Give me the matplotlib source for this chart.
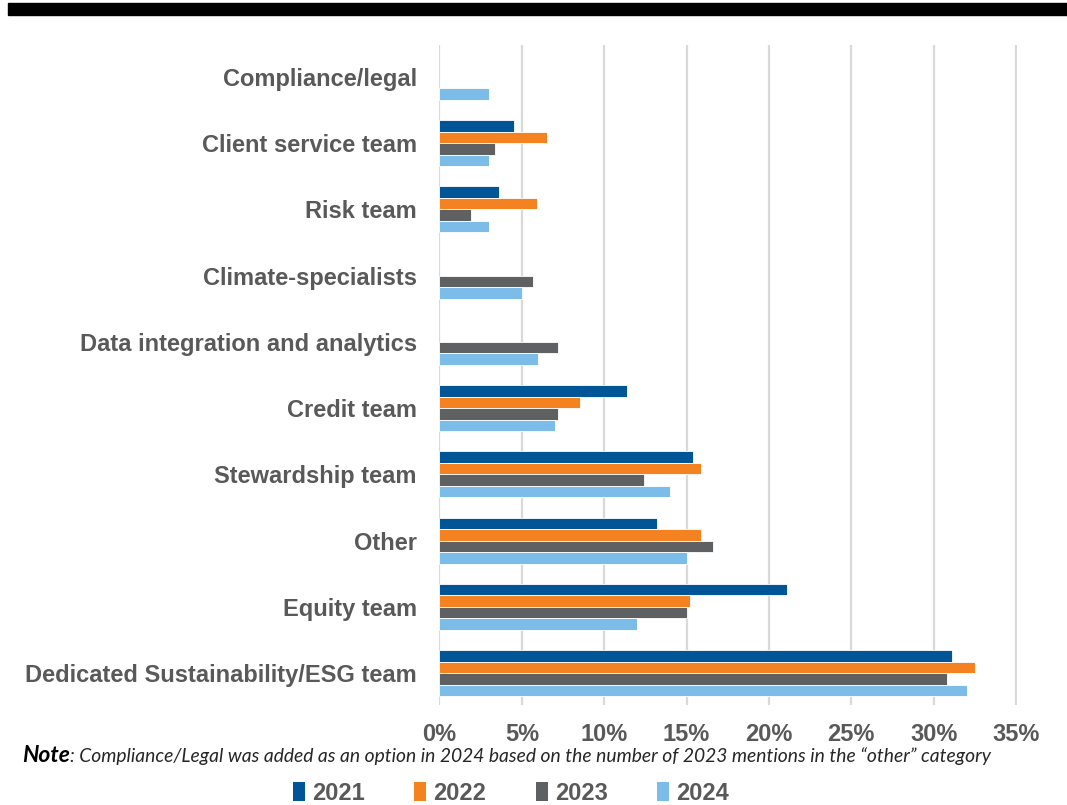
import matplotlib
matplotlib.use("Agg")
import matplotlib.pyplot as plt
from matplotlib.patches import Rectangle, Patch
import numpy as np

categories = ["Dedicated Sustainability/ESG team", "Equity team", "Other", "Stewardship team",
              "Credit team", "Data integration and analytics", "Climate-specialists",
              "Risk team", "Client service team", "Compliance/legal"]
years = ["2021", "2022", "2023", "2024"]
v2021 = [31.1, 21.1, 13.2, 15.4, 11.4, np.nan, np.nan, 3.6, 4.5, np.nan]
v2022 = [32.5, 15.2, 15.9, 15.9, 8.5, np.nan, np.nan, 5.9, 6.5, np.nan]
v2023 = [30.8, 15.0, 16.6, 12.4, 7.2, 7.2, 5.7, 1.9, 3.4, np.nan]
v2024 = [32.0, 12.0, 15.0, 14.0, 7.0, 6.0, 5.0, 3.0, 3.0, 3.0]
xticks = [0, 5, 10, 15, 20, 25, 30, 35]
colors = ["#005596", "#F58220", "#5F6062", "#7BBDE8"]
series = [v2021, v2022, v2023, v2024]

txt = "#595959"
fig = plt.figure(figsize=(10.67, 8.05), dpi=100)
fig.patches.append(Rectangle((8/1067, 1-15/805), 1, 12/805, transform=fig.transFigure,
                             color="black", zorder=10))
ax = fig.add_axes([439/1067, 100/805, 578/1067, 660/805])

y = np.arange(len(categories))
h = 0.173
offsets = [1.5*h, 0.5*h, -0.5*h, -1.5*h]
for vals, c, off, yr in zip(series, colors, offsets, years):
    ax.barh(y + off, np.array(vals)/100, height=h, color=c, edgecolor="white",
            linewidth=0.6, zorder=3, label=yr)

ax.set_xlim(-0.0003, 0.3506)
ax.set_ylim(-0.48, 9.48)
ax.set_xticks([t/100 for t in xticks])
ax.set_xticklabels([f"{t}%" for t in xticks])
ax.set_yticks(y)
ax.set_yticklabels(categories)
for s in ax.spines.values():
    s.set_visible(False)
ax.tick_params(axis="both", length=0, labelsize=17, labelcolor=txt)
ax.tick_params(axis="y", pad=16)
ax.tick_params(axis="x", pad=13)
for lab in ax.get_xticklabels() + ax.get_yticklabels():
    lab.set_fontweight("bold")
    lab.set_fontfamily("Liberation Sans")
ax.grid(axis="x", color="#D9D9D9", linewidth=1.6, zorder=0)
ax.set_axisbelow(True)

note_y = 1 - 762/805
note = fig.text(22/1067, note_y, "Note", fontsize=16.5, fontweight="bold", style="italic",
                family="Lato", color="black", va="baseline", ha="left")
fig.canvas.draw()
bb = note.get_window_extent()
fig.text(bb.x1/fig.bbox.width, note_y,
         ": Compliance/Legal was added as an option in 2024 based on the number of 2023 mentions in the \u201cother\u201d category",
         fontsize=13.9, style="italic", family="Lato", color="#262626", va="baseline", ha="left")

handles = [Patch(facecolor=c, edgecolor="none") for c in colors]
leg = fig.legend(handles, years, loc="center", bbox_to_anchor=(511/1067, 1-793/805),
                 ncol=4, frameon=False, handlelength=0.5, handleheight=0.9,
                 handletextpad=0.3, columnspacing=2.1,
                 prop={"family": "Liberation Sans", "weight": "bold", "size": 17})
for t in leg.get_texts():
    t.set_color(txt)

fig.savefig("out.png", dpi=100)
